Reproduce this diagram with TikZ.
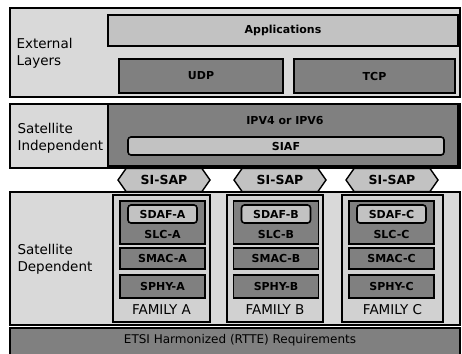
\documentclass[tikz,border=0pt]{standalone}
\usepackage{fontspec}
\setmainfont{DejaVu Sans}
\usetikzlibrary{shapes.symbols}
\begin{document}
\begin{tikzpicture}[x=1pt,y=-1pt,
  boxfont/.style={font=\fontsize{11}{12}\selectfont\bfseries},
  panel/.style={draw=black, line width=1.8pt, fill=black!15, inner sep=0pt},
  lightbox/.style={draw=black, line width=1.6pt, fill=black!24, inner sep=0pt, boxfont},
  darkbox/.style={draw=black, line width=1.6pt, fill=black!50, inner sep=0pt, boxfont},
  roundbox/.style={lightbox, rounded corners=3pt},
  familybox/.style={draw=black, line width=1.6pt, fill=black!18, inner sep=0pt},
  sapbox/.style={signal, signal to=west and east, signal pointer angle=110, draw=black, line width=1.4pt, fill=black!24, inner sep=0pt, font=\fontsize{12.5}{13}\selectfont\bfseries},
  sidelabel/.style={anchor=west, align=left, font=\fontsize{13.5}{17}\selectfont},
  caption/.style={font=\fontsize{13.5}{14}\selectfont},
]
\useasboundingbox (0,0) rectangle (462,353);
\fill[white] (0,0) rectangle (462,353);

% ---- External layers ----
\node[panel, minimum width=450, minimum height=89] (ext) at (235,52.5) {};
\node[sidelabel] (extlbl) at (13,53) {External\\Layers};
\node[lightbox, minimum width=350, minimum height=31] (apps) at (283,30.5) {Applications};
\node[darkbox, minimum width=164, minimum height=34] (udp) at (201,76) {UDP};
\node[darkbox, minimum width=161, minimum height=34] (tcp) at (374.5,76) {TCP};

% ---- Satellite independent ----
\node[panel, minimum width=450, minimum height=64] (indep) at (235,136) {};
\node[sidelabel] (indeplbl) at (14,138) {Satellite\\Independent};
\node[darkbox, minimum width=350, minimum height=62] (ip) at (283,135) {};
\node[boxfont] (iplbl) at (285,120) {IPV4 or IPV6};
\node[roundbox, minimum width=316, minimum height=18] (siaf) at (286,146) {SIAF};

% ---- Satellite dependent ----
\node[panel, minimum width=450, minimum height=133] (dep) at (235,258.5) {};
\node[sidelabel] (deplbl) at (14,259) {Satellite\\Dependent};

% service access points
\node[sapbox, minimum width=92, minimum height=23] (sapA) at (164,180) {SI-SAP};
\node[sapbox, minimum width=92, minimum height=23] (sapB) at (280,180) {SI-SAP};
\node[sapbox, minimum width=92, minimum height=23] (sapC) at (392,180) {SI-SAP};

% families
\foreach \fam/\fx/\bx/\w in {A/161.5/162.5/97, B/275/276/96, C/392.5/391.5/101}{
  \node[familybox, minimum width=\w, minimum height=127] (fam\fam) at (\fx,258.5) {};
  \node[darkbox, minimum width=85, minimum height=43] (slc\fam) at (\bx,222.5) {};
  \node[boxfont] (slclbl\fam) at (\bx,234) {SLC-\fam};
  \node[roundbox, minimum width=69, minimum height=18] (sdaf\fam) at (\bx,214) {SDAF-\fam};
  \node[darkbox, minimum width=85, minimum height=21] (smac\fam) at (\bx,258.5) {SMAC-\fam};
  \node[darkbox, minimum width=85, minimum height=23] (sphy\fam) at (\bx,286.5) {SPHY-\fam};
  \node[caption] (famlbl\fam) at (\fx,309.5) {FAMILY \fam};
}

% ---- ETSI requirements ----
\node[darkbox, line width=1.8pt, minimum width=450, minimum height=28] (etsi) at (235,342) {};
\node[font=\fontsize{12}{13}\selectfont] (etsilbl) at (240,340) {ETSI Harmonized (RTTE) Requirements};
\end{tikzpicture}
\end{document}
